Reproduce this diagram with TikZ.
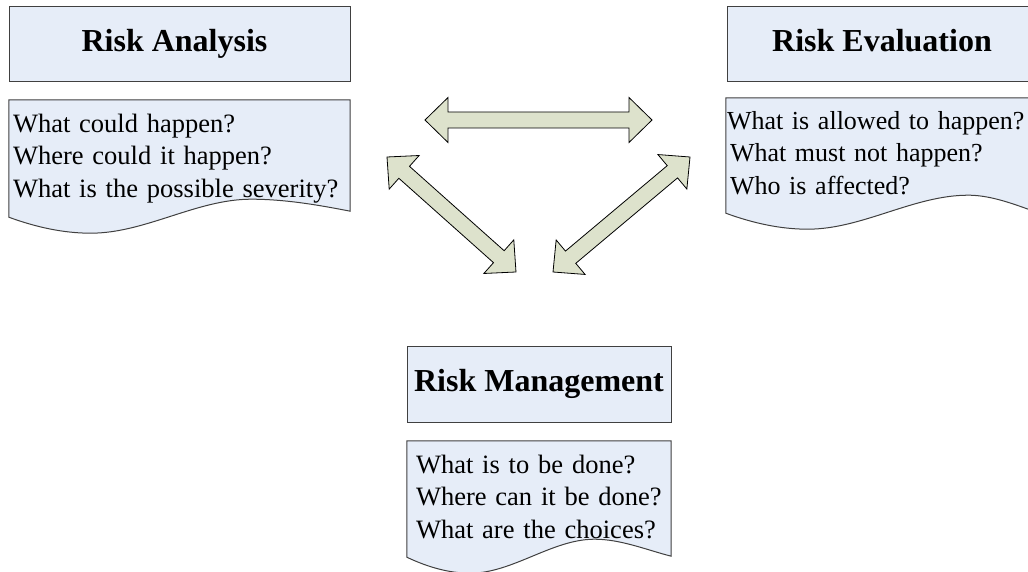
\documentclass[tikz,border=0pt]{standalone}
\usepackage{fontspec}
\setmainfont{Liberation Serif}
\usepackage{tikz}
\usetikzlibrary{calc, backgrounds}
\definecolor{boxblue}{RGB}{230,237,248}
\definecolor{arrowolive}{RGB}{221,226,204}
\definecolor{edgegray}{RGB}{64,64,64}

\begin{document}
\begin{tikzpicture}[
    x=1pt, y=1pt,
    head/.style={rectangle, draw=edgegray, fill=boxblue, line width=1pt, inner sep=0pt, text height=22pt, text depth=7pt, font=\fontsize{32}{38}\selectfont\bfseries},
    doc/.style={rectangle, inner xsep=4pt, inner ysep=0pt, align=left, font=\fontsize{26.5}{32.5}\selectfont},
    docline/.style={draw=edgegray, fill=boxblue, line width=1pt},
    blockarrow/.style={draw=black, fill=arrowolive, line width=0.8pt, line join=miter}
]
\useasboundingbox (0,0) rectangle (1028,571);

% Risk Analysis
\node[head, minimum width=341pt, minimum height=75pt] (anahead) at (179.5,526.5) {Risk Analysis\hspace*{10pt}};
\node[doc, text width=333pt, minimum height=117pt] (anadoc) at (179.5,412.5) {\strut What could happen?\\Where could it happen?\\What is the possible severity?\strut};

% Risk Evaluation
\node[head, minimum width=320pt, minimum height=75pt] (evahead) at (887,526.5) {Risk Evaluation\hspace*{10pt}};
\node[doc, inner xsep=1pt, text width=339pt, minimum height=115pt, font=\fontsize{26}{32.5}\selectfont] (evadoc) at (896.5,415.5) {\strut What is allowed to happen?\\\hspace*{3pt}What must not happen?\\\hspace*{3pt}Who is affected?\strut};

% Risk Management
\node[head, minimum width=264pt, minimum height=76pt] (manhead) at (539,187) {Risk Management};
\node[doc, inner xsep=9pt, text width=246pt, minimum height=116pt] (mandoc) at (539,72) {\strut What is to be done?\\Where can it be done?\\What are the choices?\strut};

% document outlines with wavy bottom
\begin{scope}[on background layer]
\foreach \d/\r in {anadoc/6, evadoc/-8, mandoc/1}
  \draw[docline] (\d.north west) -- (\d.north east) -- ($(\d.south east)+(0,\r)$)
    .. controls ($(\d.south west)!0.91!(\d.south east)+(0,\r+6)$) and ($(\d.south west)!0.81!(\d.south east)+(0,18)$) .. ($(\d.south west)!0.71!(\d.south east)+(0,18)$)
    .. controls ($(\d.south west)!0.55!(\d.south east)+(0,18)$) and ($(\d.south west)!0.40!(\d.south east)+(0,-16)$) .. ($(\d.south west)!0.24!(\d.south east)+(0,-16)$)
    .. controls ($(\d.south west)!0.16!(\d.south east)+(0,-16)$) and ($(\d.south west)!0.08!(\d.south east)+(0,-10)$) .. (\d.south west) -- cycle;
\end{scope}

% block arrows
\coordinate (ae1) at (425,451);
\coordinate (ae2) at (652,451);
\coordinate (am1) at (387,414);
\coordinate (am2) at (516,299);
\coordinate (em1) at (690,414);
\coordinate (em2) at (553,299);
\foreach \a/\b in {ae1/ae2, am1/am2, em1/em2}
  \draw[blockarrow] let \p1=($(\b)-(\a)$), \n1={atan2(\y1,\x1)}, \n2={veclen(\x1,\y1)} in
    [shift={(\a)}, rotate=\n1] (0,0) -- (23,22.5) -- (23,8) -- ({\n2-23},8) -- ({\n2-23},22.5) -- (\n2,0)
    -- ({\n2-23},-22.5) -- ({\n2-23},-8) -- (23,-8) -- (23,-22.5) -- cycle;

\end{tikzpicture}
\end{document}
